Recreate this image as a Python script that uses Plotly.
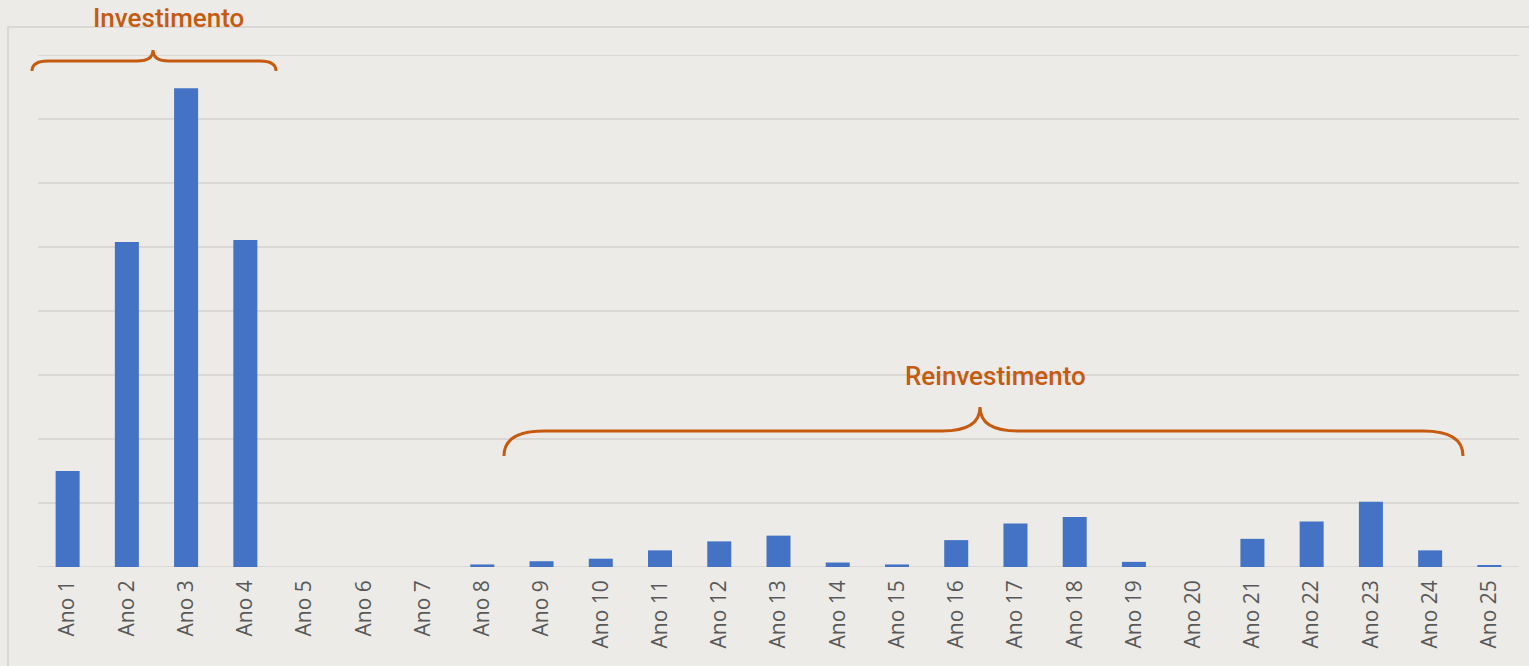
import plotly.graph_objects as go

categories = [f"Ano {i}" for i in range(1, 26)]
values = [1.50, 5.08, 7.48, 5.11, 0, 0, 0, 0.04, 0.09, 0.13, 0.26, 0.40, 0.49,
          0.07, 0.04, 0.42, 0.68, 0.78, 0.08, 0, 0.44, 0.71, 1.02, 0.26, 0.02]
positions = list(range(1, 26))
y_max = 8

BG = "#ECEBE7"
ORANGE = "#C55A11"
GRID = "#D9D8D5"
W, H = 1529, 666
L, R, T, B = 38, 10, 55, 99
PW = W - L - R
PH = H - T - B


def px(x):
    return (x - L) / PW


def py(y):
    return (H - B - y) / PH


def brace(pts):
    s = []
    for cmd, coords in pts:
        s.append(cmd + " " + " ".join(f"{px(x):.5f},{py(y):.5f}" for x, y in coords))
    return " ".join(s)


brace1 = brace([
    ("M", [(32, 71)]), ("Q", [(32, 61), (48, 61)]), ("L", [(137, 61)]),
    ("Q", [(153, 61), (153, 50)]), ("Q", [(153, 61), (169, 61)]),
    ("L", [(260, 61)]), ("Q", [(276, 61), (276, 71)]),
])
brace2 = brace([
    ("M", [(504, 456)]), ("Q", [(504, 431), (544, 431)]), ("L", [(942, 431)]),
    ("Q", [(980, 431), (980, 407)]), ("Q", [(980, 431), (1018, 431)]),
    ("L", [(1423, 431)]), ("Q", [(1463, 431), (1463, 456)]),
])

fig = go.Figure(go.Bar(
    x=positions, y=values,
    marker=dict(color="#4472C4", line=dict(width=0)),
    width=0.405,
))

fig.update_layout(
    width=W, height=H,
    margin=dict(l=L, r=R, t=T, b=B),
    paper_bgcolor=BG, plot_bgcolor=BG,
    showlegend=False,
    xaxis=dict(
        range=[0.5, 25.5], tickmode="array", tickvals=positions, ticktext=categories,
        tickangle=-90, tickfont=dict(family="Open Sans", size=21, color="#595959"),
        showgrid=False, zeroline=False, showline=False, ticks="", ticklen=0,
        ticklabelstandoff=8,
    ),
    yaxis=dict(
        range=[0, y_max], dtick=1, showticklabels=False, gridcolor=GRID,
        gridwidth=2, zeroline=False, showline=False,
    ),
    shapes=[
        dict(type="rect", xref="paper", yref="paper",
             x0=px(8), x1=px(1540), y0=py(680), y1=py(27),
             line=dict(color=GRID, width=2), fillcolor="rgba(0,0,0,0)", layer="below"),
        dict(type="line", xref="paper", yref="y", x0=0, x1=1, y0=y_max, y1=y_max,
             line=dict(color=GRID, width=2), layer="below"),
        dict(type="line", xref="paper", yref="y", x0=0, x1=1, y0=0, y1=0,
             line=dict(color=GRID, width=2), layer="below"),
        dict(type="path", xref="paper", yref="paper", path=brace1,
             line=dict(color=ORANGE, width=3)),
        dict(type="path", xref="paper", yref="paper", path=brace2,
             line=dict(color=ORANGE, width=3)),
    ],
    annotations=[
        dict(text="Investimento", xref="paper", yref="paper", x=px(168), y=py(18),
             xanchor="center", yanchor="middle", showarrow=False,
             font=dict(family="Roboto", size=26, color=ORANGE, weight=500)),
        dict(text="Reinvestimento", xref="paper", yref="paper", x=px(995), y=py(376),
             xanchor="center", yanchor="middle", showarrow=False,
             font=dict(family="Roboto", size=26, color=ORANGE, weight=500)),
    ],
)

fig.write_html("out.html", config={"displayModeBar": False})

with open("out.html", "r", encoding="utf-8") as f:
    html = f.read()
html = html.replace("<head>", "<head><style>html,body{margin:0;padding:0;overflow:hidden;background:%s}</style>" % BG, 1)
with open("out.html", "w", encoding="utf-8") as f:
    f.write(html)
